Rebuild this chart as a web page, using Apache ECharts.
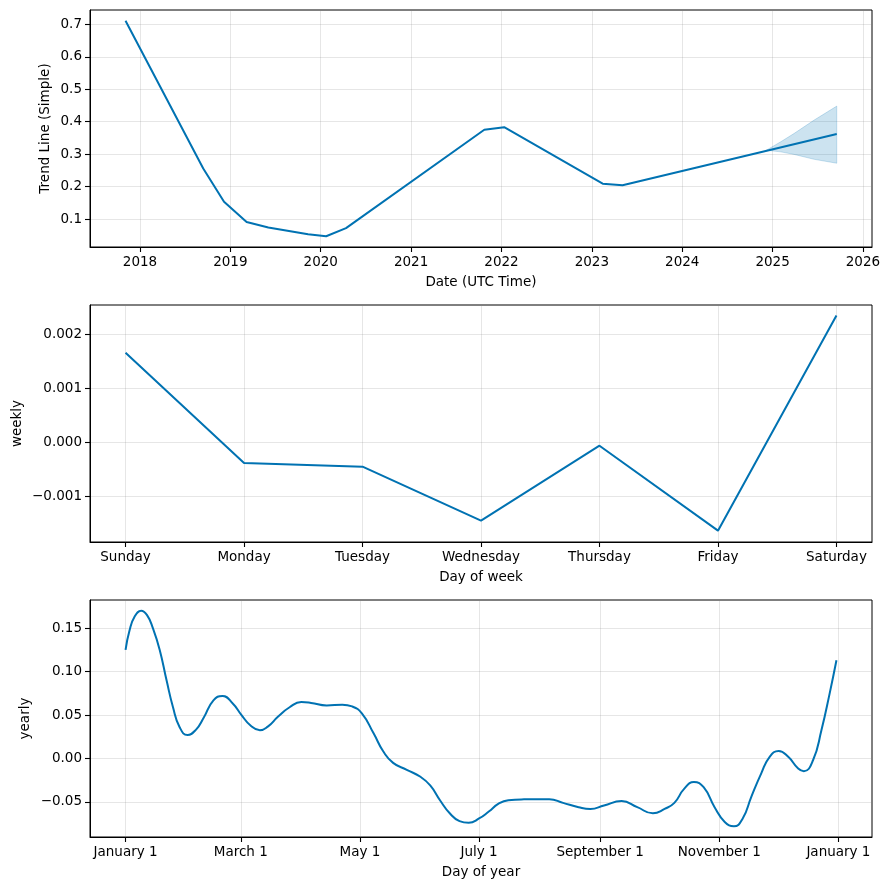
<!DOCTYPE html>
<html><head><meta charset="utf-8">
<script src="https://cdn.jsdelivr.net/npm/echarts@6/dist/echarts.min.js"></script>
<style>html,body{margin:0;padding:0;background:#fff}#c{width:889px;height:890px}</style>
</head><body><div id="c"></div>
<script>
// ---- Trend panel ----
const trendYears  = [2017.84, 2018.70, 2018.93, 2019.18, 2019.42, 2019.86, 2020.06, 2020.28, 2021.81, 2022.03, 2023.12, 2023.34, 2025.71];
const trendValues = [0.711, 0.256, 0.153, 0.091, 0.074, 0.053, 0.047, 0.072, 0.375, 0.383, 0.209, 0.204, 0.362];
const bandYears = [2024.93, 2025.09, 2025.24, 2025.46, 2025.71];
const bandLower = [0.312, 0.307, 0.299, 0.284, 0.272];
const bandUpper = [0.312, 0.338, 0.364, 0.405, 0.448];
const yearTicks = [2018, 2019, 2020, 2021, 2022, 2023, 2024, 2025, 2026];
const trendYTicks = [0.1, 0.2, 0.3, 0.4, 0.5, 0.6, 0.7];

// ---- Weekly panel ----
const weekDays = ['Sunday', 'Monday', 'Tuesday', 'Wednesday', 'Thursday', 'Friday', 'Saturday'];
const weeklyValues = [0.001667, -0.000377, -0.000444, -0.001444, -0.000056, -0.00163, 0.002357];
const weeklyYTicks = [-0.001, 0, 0.001, 0.002];

// ---- Yearly panel ----
const yearlyDays = [0, 2, 4.6, 8, 11, 14, 17.5, 21, 24.3, 27.7, 31.7, 36, 40, 45, 49.6, 55, 59.4, 64, 68.8, 73, 78, 84, 90, 95, 103, 111, 116, 121, 127, 132, 137, 144, 151, 156, 161, 166, 171, 175.7, 181, 186, 191, 196, 204, 217, 224, 232, 238, 245, 254, 262, 270, 276, 281, 286, 291, 296, 301.6, 306.8, 311.5, 316, 320.4, 325.5, 329.8, 334.4, 339.3, 344.4, 347.3, 352, 356.3, 360.5, 364];
const yearlyValues = [0.125, 0.147, 0.163, 0.170, 0.165, 0.150, 0.125, 0.090, 0.059, 0.036, 0.027, 0.033, 0.047, 0.067, 0.072, 0.063, 0.050, 0.038, 0.0325, 0.037, 0.048, 0.059, 0.065, 0.064, 0.061, 0.062, 0.060, 0.052, 0.029, 0.008, -0.005, -0.013, -0.021, -0.031, -0.048, -0.063, -0.072, -0.074, -0.069, -0.061, -0.052, -0.048, -0.047, -0.0468, -0.051, -0.056, -0.058, -0.054, -0.049, -0.056, -0.063, -0.058, -0.051, -0.035, -0.027, -0.033, -0.056, -0.073, -0.078, -0.069, -0.044, -0.017, 0.002, 0.0087, 0.002, -0.0115, -0.0146, -0.002, 0.0325, 0.0747, 0.113];
const monthTickDays = [0, 59, 120, 181, 243, 304, 365];
const monthTickLabels = ['January 1', 'March 1', 'May 1', 'July 1', 'September 1', 'November 1', 'January 1'];
const yearlyYTicks = [-0.05, 0, 0.05, 0.10, 0.15];

const F = 'DejaVu Sans';
const FS = 13.5;
const LINE = '#0072B2';
const minus = s => s.replace('-', '\u2212');

function axis(gridIndex, min, max, ticks, fmt, name, nameGap) {
  return {
    type: 'value', gridIndex, min, max, name, nameLocation: 'middle', nameGap,
    nameMoveOverlap: false,
    nameTextStyle: {color: '#000', fontSize: FS, fontFamily: F},
    axisLine: {show: true, onZero: false, lineStyle: {color: '#000', width: 1}},
    axisTick: {show: true, inside: false, length: 5, lineStyle: {color: '#000', width: 1.1}, customValues: ticks},
    axisLabel: {show: true, customValues: ticks, formatter: fmt, color: '#000', fontSize: FS, fontFamily: F, margin: 8},
    splitLine: {show: true, lineStyle: {color: 'rgba(128,128,128,0.2)', width: 1}}
  };
}

const gridBase = {left: 90, width: 782, height: 237, show: true, borderColor: '#000', borderWidth: 1, backgroundColor: 'transparent'};

const option = {
  animation: false,
  backgroundColor: '#fff',
  textStyle: {fontFamily: F},
  grid: [
    Object.assign({top: 10}, gridBase),
    Object.assign({top: 305}, gridBase),
    Object.assign({top: 600}, gridBase)
  ],
  xAxis: [
    axis(0, 2017.447, 2026.10, yearTicks, v => String(Math.round(v)), 'Date (UTC Time)', 28),
    axis(1, -0.3, 6.3, [0, 1, 2, 3, 4, 5, 6], v => weekDays[Math.round(v)], 'Day of week', 28),
    axis(2, -18.2, 382.2, monthTickDays, v => monthTickLabels[monthTickDays.indexOf(v)], 'Day of year', 28)
  ],
  yAxis: [
    axis(0, 0.0138, 0.7442, trendYTicks, v => v.toFixed(1), 'Trend Line (Simple)', 38),
    axis(1, -0.00184, 0.00255, weeklyYTicks, v => minus(v.toFixed(3)), 'weekly', 65.5),
    axis(2, -0.0903, 0.1824, yearlyYTicks, v => minus(v.toFixed(2)), 'yearly', 57.5)
  ],
  series: [
    {type: 'custom', xAxisIndex: 0, yAxisIndex: 0, silent: true, z: 2,
     data: bandYears.map((x, i) => [x, bandLower[i], bandUpper[i]]),
     encode: {x: 0, y: [1, 2]},
     renderItem: function (params, api) {
       if (params.dataIndex !== 0) return null;
       const pts = [];
       for (let i = 0; i < bandYears.length; i++) pts.push(api.coord([bandYears[i], bandUpper[i]]));
       for (let i = bandYears.length - 1; i >= 0; i--) pts.push(api.coord([bandYears[i], bandLower[i]]));
       return {type: 'polygon', shape: {points: pts},
               style: {fill: 'rgba(0,114,178,0.2)', stroke: 'rgba(0,114,178,0.2)', lineWidth: 1}};
     }},
    {type: 'line', xAxisIndex: 0, yAxisIndex: 0, symbol: 'none', z: 5,
     lineStyle: {color: LINE, width: 2},
     data: trendYears.map((x, i) => [x, trendValues[i]])},
    {type: 'line', xAxisIndex: 1, yAxisIndex: 1, symbol: 'none',
     lineStyle: {color: LINE, width: 2},
     data: weeklyValues.map((v, i) => [i, v])},
    {type: 'line', xAxisIndex: 2, yAxisIndex: 2, symbol: 'none', smooth: 0.5,
     lineStyle: {color: LINE, width: 2},
     data: yearlyDays.map((d, i) => [d, yearlyValues[i]])}
  ]
};
const chart = echarts.init(document.getElementById('c'), null, {renderer: 'canvas'});
chart.setOption(option);
</script>
</body></html>
